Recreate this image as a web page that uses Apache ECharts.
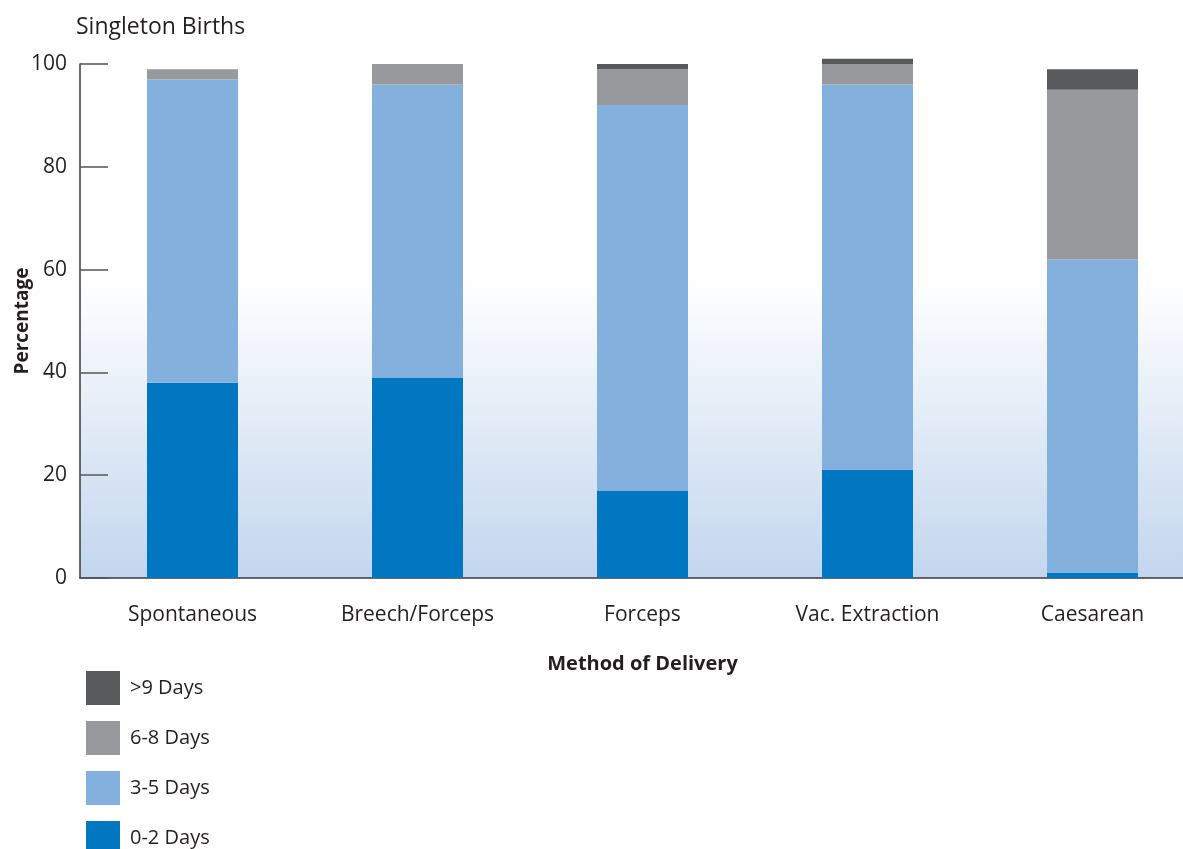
<!DOCTYPE html>
<html>
<head>
<meta charset="utf-8">
<script src="https://cdn.jsdelivr.net/npm/echarts@6/dist/echarts.min.js"></script>
<style>
  html, body { margin: 0; padding: 0; background: #fff; }
  #chart { width: 1183px; height: 849px; }
</style>
</head>
<body>
<div id="chart"></div>
<script>
const categories = ['Spontaneous', 'Breech/Forceps', 'Forceps', 'Vac. Extraction', 'Caesarean']
const days0to2 = [38, 39, 17, 21, 1]
const days3to5 = [59, 57, 75, 75, 61]
const days6to8 = [2, 4, 7, 4, 33]
const daysOver9 = [0, 0, 1, 1, 4]
const legendOrder = ['>9 Days', '6-8 Days', '3-5 Days', '0-2 Days']

const textColor = '#231f20'
const font = 'Open Sans'

const chart = echarts.init(document.getElementById('chart'))

const bar = (name, data, color) => ({
  name,
  type: 'bar',
  stack: 'total',
  data,
  barWidth: 91,
  clip: false,
  itemStyle: { color },
  emphasis: { disabled: true }
})

chart.setOption({
  animation: false,
  textStyle: { fontFamily: font, color: textColor },
  title: {
    text: 'Singleton Births',
    left: 71,
    top: 11,
    textStyle: { fontFamily: font, fontSize: 23, fontWeight: 'normal', color: textColor }
  },
  legend: {
    orient: 'vertical',
    left: 81,
    top: 666,
    height: 240,
    itemWidth: 34,
    itemHeight: 34,
    itemGap: 16,
    icon: 'rect',
    data: legendOrder,
    textStyle: { fontFamily: font, fontSize: 20, color: textColor, padding: [0, 0, 0, 5] }
  },
  grid: {
    left: 80,
    top: 64,
    height: 514,
    width: 1125,
    outerBoundsMode: 'none',
    show: true,
    borderWidth: 0,
    backgroundColor: new echarts.graphic.LinearGradient(0, 0, 0, 1, [
      { offset: 0, color: '#ffffff' },
      { offset: 0.42, color: '#ffffff' },
      { offset: 1, color: '#c3d6ee' }
    ])
  },
  xAxis: {
    type: 'category',
    data: categories,
    name: 'Method of Delivery',
    nameLocation: 'middle',
    nameGap: 76,
    nameMoveOverlap: false,
    nameTextStyle: { fontFamily: font, fontSize: 20, fontWeight: 'bold', color: textColor },
    axisLine: { lineStyle: { color: '#3a3a3a', width: 1.5 } },
    axisTick: { inside: true, length: 11, lineStyle: { color: '#3a3a3a', width: 1.5 } },
    axisLabel: { fontFamily: font, fontSize: 21, color: textColor, margin: 27 }
  },
  yAxis: {
    type: 'value',
    min: 0,
    max: 100,
    interval: 20,
    name: 'Percentage',
    nameLocation: 'middle',
    nameGap: 48,
    nameMoveOverlap: false,
    nameTextStyle: { fontFamily: font, fontSize: 19, fontWeight: 'bold', color: textColor },
    axisLine: { show: true, lineStyle: { color: '#3a3a3a', width: 1.5 } },
    axisTick: { show: true, inside: true, length: 28, lineStyle: { color: '#555555', width: 1.5 } },
    axisLabel: { fontFamily: font, fontSize: 21, color: textColor, margin: 13 },
    splitLine: { show: false }
  },
  series: [
    bar('0-2 Days', days0to2, '#0077c0'),
    bar('3-5 Days', days3to5, '#84b0dd'),
    bar('6-8 Days', days6to8, '#98999d'),
    bar('>9 Days', daysOver9, '#58595b')
  ]
})
</script>
</body>
</html>
